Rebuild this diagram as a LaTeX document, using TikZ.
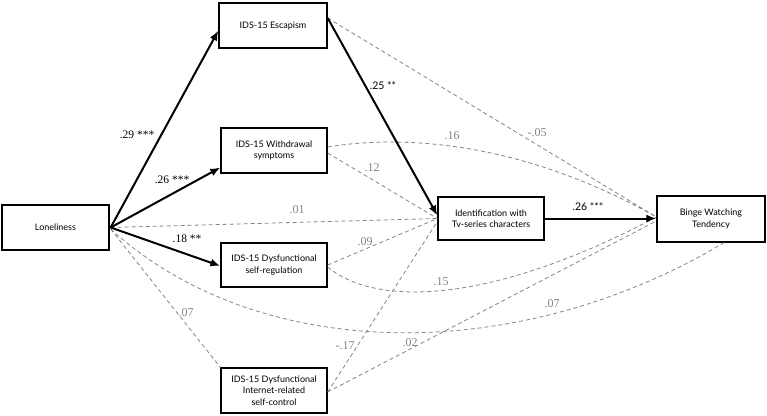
\documentclass[tikz,border=0pt]{standalone}
\usepackage{fontspec}
\setmainfont{Liberation Serif}
\newfontfamily\boxfont{Lato}
\usetikzlibrary{arrows.meta,calc}
\definecolor{dgray}{HTML}{858585}
\tikzset{
  vbox/.style={draw=black, line width=1.3pt, align=center, inner sep=2pt,
    font=\boxfont\fontsize{9}{11.5}\selectfont},
  patharr/.style={line width=2pt, -{Latex[length=10pt,width=8pt]}},
  dpath/.style={draw=dgray, line width=0.8pt, dash pattern=on 4pt off 3pt},
  coef/.style={text=dgray, font=\fontsize{12}{13}\selectfont, inner sep=0.5pt},
  sigs/.style={text=black, font=\fontsize{11.5}{12}\selectfont, inner sep=0.5pt},
  sigsans/.style={text=black, font=\boxfont\fontsize{10.5}{12}\selectfont, inner sep=0.5pt}
}
\begin{document}
\begin{tikzpicture}[x=1pt,y=-1pt]
\useasboundingbox[fill=white] (0,0) rectangle (767,415);

% boxes
\node[vbox, minimum width=107pt, minimum height=45pt] (lon) at (55.5,227.5) {Loneliness};
\node[vbox, minimum width=108pt, minimum height=45pt] (esc) at (273,25.5) {IDS-15 Escapism};
\node[vbox, minimum width=106pt, minimum height=45pt] (wd) at (274,150.5) {IDS-15 Withdrawal\\symptoms};
\node[vbox, minimum width=106pt, minimum height=44pt] (sr) at (274,265) {IDS-15 Dysfunctional\\self-regulation};
\node[vbox, minimum width=106pt, minimum height=45pt] (isc) at (274,390.5) {IDS-15 Dysfunctional\\Internet-related\\self-control};
\node[vbox, minimum width=106pt, minimum height=43pt] (idn) at (491,218.5) {Identification with\\Tv-series characters};
\node[vbox, minimum width=108pt, minimum height=46pt] (bw) at (711,219) {Binge Watching\\Tendency};

% connection points
\coordinate (lonA) at ($(lon.east)+(1,0)$);
\coordinate (lonB) at ($(lon.east)+(1,1.5)$);
\coordinate (escE) at ($(esc.east)+(0,-7.5)$);
\coordinate (wdE1) at ($(wd.east)+(0,-3.5)$);
\coordinate (wdE2) at ($(wd.east)+(0,2.5)$);
\coordinate (srE1) at ($(sr.east)+(0,0)$);
\coordinate (srE2) at ($(sr.east)+(0,2)$);
\coordinate (iscE) at ($(isc.east)+(0,1.5)$);
\coordinate (idnW) at ($(idn.west)+(0,0)$);
\coordinate (bwW) at ($(bw.west)+(0,-2)$);
\coordinate (bwS) at ($(bw.south)+(13,0)$);

% dashed (non-significant) paths
\draw[dpath] (escE) -- (bwW);
\draw[dpath] (wdE1) .. controls (400,135) and (520,140) .. (bwW);
\draw[dpath] (wdE2) -- (idnW);
\draw[dpath] (lonA) -- (idnW);
\draw[dpath] (srE1) -- (idnW);
\draw[dpath] (srE2) .. controls (380,310) and (500,300) .. (bwW);
\draw[dpath] (lonB) .. controls (260,365) and (520,365) .. (bwS);
\draw[dpath] (lonB) -- (isc.north west);
\draw[dpath] (iscE) -- ($(idnW)+(0,3)$);
\draw[dpath] (iscE) -- ($(bwW)+(0,4)$);

% significant paths
\draw[patharr] (lonA) -- ($(esc.west)+(0,5)$);
\draw[patharr] (lonA) -- ($(wd.west)+(0,17)$);
\draw[patharr] (lonA) -- ($(sr.west)+(0,1)$);
\draw[patharr] (escE) -- ($(idn.west)+(0,-3)$);
\draw[patharr] (idn.east) -- (idn.east -| bw.west);

% coefficient labels
\node[sigs] (l29) at (137,135) {.29 ***};
\node[sigs] (l26a) at (172,180) {.26 ***};
\node[sigs] (l18) at (187,239) {.18 **};
\node[sigsans] (l25) at (383,86) {.25 **};
\node[sigsans] (l26b) at (588,207) {.26 ***};
\node[coef] (l16) at (452,136) {.16};
\node[coef] (l05) at (537,133) {-.05};
\node[coef] (l12) at (372,168) {.12};
\node[coef] (l01) at (297,210) {.01};
\node[coef] (l09) at (365,242) {.09};
\node[coef] (l15) at (441,282) {.15};
\node[coef] (l07a) at (552,304) {.07};
\node[coef] (l07b) at (186,313) {.07};
\node[coef] (l17) at (345,346) {-.17};
\node[coef] (l02) at (410,343) {.02};
\end{tikzpicture}
\end{document}
